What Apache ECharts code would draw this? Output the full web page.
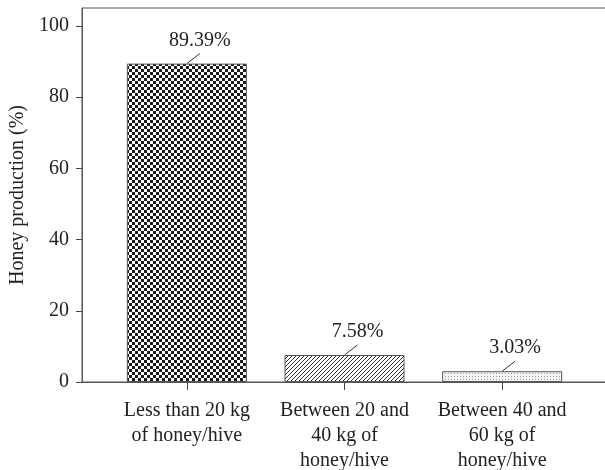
<!DOCTYPE html>
<html>
<head>
<meta charset="utf-8">
<script src="https://cdn.jsdelivr.net/npm/echarts@6/dist/echarts.min.js"></script>
<style>
html, body { margin: 0; padding: 0; background: #fff; }
#chart { width: 605px; height: 470px; }
</style>
</head>
<body>
<div id="chart"></div>
<script>
var categories = ['Less than 20 kg\nof honey/hive', 'Between 20 and\n40 kg of\nhoney/hive', 'Between 40 and\n60 kg of\nhoney/hive'];
var shares = [89.39, 7.58, 3.03];
var yTicks = [0, 20, 40, 60, 80, 100];

var serif = '"Liberation Serif", "DejaVu Serif", serif';

// fill patterns for the three bars
function pattern(kind) {
    var c = document.createElement('canvas');
    var ctx = c.getContext('2d');
    if (kind == 'checker') {
        c.width = 6; c.height = 6;
        ctx.fillStyle = '#fff'; ctx.fillRect(0, 0, 6, 6);
        ctx.fillStyle = '#1a1a1a';
        ctx.fillRect(0, 0, 3, 3);
        ctx.fillRect(3, 3, 3, 3);
    } else if (kind == 'hatch') {
        c.width = 4; c.height = 4;
        ctx.fillStyle = '#fff'; ctx.fillRect(0, 0, 4, 4);
        ctx.strokeStyle = '#333';
        ctx.lineWidth = 1;
        ctx.beginPath();
        ctx.moveTo(-1, 5); ctx.lineTo(5, -1);
        ctx.moveTo(-1, 1); ctx.lineTo(1, -1);
        ctx.moveTo(3, 5); ctx.lineTo(5, 3);
        ctx.stroke();
    } else {
        c.width = 3; c.height = 3;
        ctx.fillStyle = '#f4f4f4'; ctx.fillRect(0, 0, 3, 3);
        ctx.fillStyle = '#999';
        ctx.fillRect(1, 1, 1, 1);
    }
    return { image: c, repeat: 'repeat' };
}
var fills = [pattern('checker'), pattern('hatch'), pattern('dots')];

var option = {
    backgroundColor: '#fff',
    animation: false,
    grid: [
        { left: 82, right: -2, top: 8, bottom: 88, outerBoundsMode: 'none', show: true, borderColor: '#555', borderWidth: 1 },
        { left: 108, right: 24, top: 8, bottom: 88, outerBoundsMode: 'none' }
    ],
    xAxis: [
        {
            gridIndex: 0, type: 'value', min: 0, max: 1,
            axisLine: { show: true, lineStyle: { color: '#555' } },
            axisTick: { show: false }, axisLabel: { show: false }, splitLine: { show: false }
        },
        {
            gridIndex: 1, type: 'category', data: categories,
            axisLine: { show: false },
            axisTick: { show: true, alignWithLabel: true, length: 8, lineStyle: { color: '#444' } },
            axisLabel: { interval: 0, margin: 16, fontFamily: serif, fontSize: 20, lineHeight: 25, color: '#222' }
        }
    ],
    yAxis: [
        {
            gridIndex: 0, type: 'value', min: 0, max: 105,
            name: 'Honey production (%)', nameLocation: 'middle', nameGap: 54, nameRotate: 90,
            nameTextStyle: { fontFamily: serif, fontSize: 20, color: '#222' },
            axisLine: { show: true, lineStyle: { color: '#555' } },
            axisTick: { show: true, length: 6, customValues: yTicks, lineStyle: { color: '#444' } },
            axisLabel: { customValues: yTicks, margin: 13, fontFamily: serif, fontSize: 20, color: '#222' },
            splitLine: { show: false }
        },
        {
            gridIndex: 1, type: 'value', min: 0, max: 105, show: false
        }
    ],
    series: [
        {
            type: 'bar',
            xAxisIndex: 1, yAxisIndex: 1,
            barWidth: 120,
            data: shares.map(function (v, i) {
                return { value: v, itemStyle: { color: fills[i] } };
            }),
            itemStyle: { borderColor: '#555', borderWidth: 1 }
        },
        {
            // value labels with a short leader line
            type: 'custom',
            xAxisIndex: 1, yAxisIndex: 1,
            data: shares.map(function (v, i) { return [i, v]; }),
            renderItem: function (params, api) {
                var p = api.coord([api.value(0), api.value(1)]);
                return {
                    type: 'group',
                    children: [
                        {
                            type: 'line',
                            shape: { x1: p[0], y1: p[1], x2: p[0] + 13, y2: p[1] - 10 },
                            style: { stroke: '#333', lineWidth: 1 }
                        },
                        {
                            type: 'text',
                            style: {
                                text: api.value(1).toFixed(2) + '%',
                                x: p[0] + 13, y: p[1] - 23,
                                align: 'center', verticalAlign: 'middle',
                                fontFamily: serif, fontSize: 20, fill: '#222'
                            }
                        }
                    ]
                };
            }
        }
    ]
};

var chart = echarts.init(document.getElementById('chart'));
chart.setOption(option);
</script>
</body>
</html>
